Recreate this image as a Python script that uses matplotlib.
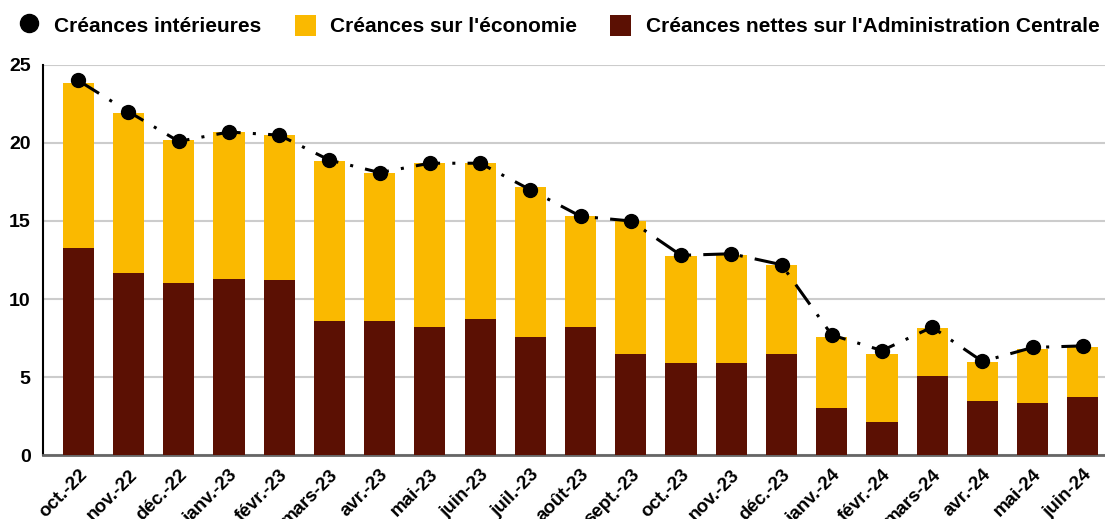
import matplotlib
matplotlib.use("Agg")
import matplotlib.pyplot as plt
from matplotlib.lines import Line2D
from matplotlib.patches import Patch
import numpy as np

plt.rcParams["font.family"] = ["Liberation Sans", "DejaVu Sans"]

months = [
    "oct.-22", "nov.-22", "déc.-22", "janv.-23", "févr.-23", "mars-23", "avr.-23",
    "mai-23", "juin-23", "juil.-23", "août-23", "sept.-23", "oct.-23", "nov.-23",
    "déc.-23", "janv.-24", "févr.-24", "mars-24", "avr.-24", "mai-24", "juin-24",
]
admin_centrale = [
    13.3, 11.7, 11.0, 11.3, 11.2, 8.6, 8.6, 8.2, 8.7, 7.6, 8.2,
    6.5, 5.9, 5.9, 6.5, 3.0, 2.1, 5.1, 3.45, 3.35, 3.7,
]
totals = [
    23.85, 21.9, 20.2, 20.7, 20.5, 18.85, 18.1, 18.7, 18.7, 17.2, 15.3,
    15.0, 12.75, 12.8, 12.15, 7.6, 6.5, 8.15, 5.95, 6.8, 6.9,
]
economie = [t - a for t, a in zip(totals, admin_centrale)]
interieures = [
    24.0, 22.0, 20.1, 20.7, 20.5, 18.9, 18.1, 18.7, 18.7, 17.0, 15.3,
    15.0, 12.8, 12.9, 12.2, 7.7, 6.7, 8.2, 6.0, 6.9, 7.0,
]

YELLOW = "#FAB900"
DARK = "#5B1003"

fig = plt.figure(figsize=(11.05, 5.19), dpi=100)
ax = fig.add_axes([0.039, 0.123, 0.961, 0.752])

x = np.arange(len(months))
ax.bar(x, admin_centrale, width=0.62, color=DARK, zorder=3)
ax.bar(x, economie, width=0.62, bottom=admin_centrale, color=YELLOW, zorder=3)
ax.plot(x, interieures, color="black", linestyle=(0, (8, 4, 1, 4)), linewidth=2.2,
        marker="o", markersize=10, zorder=4)

ax.set_xlim(-0.7, 20.44)
ax.set_ylim(0, 25)
ax.set_yticks([0, 5, 10, 15, 20, 25])
ax.grid(axis="y", color="#cccccc", linewidth=1.5, zorder=0)
ax.set_axisbelow(True)
for side in ["top", "right"]:
    ax.spines[side].set_visible(False)
ax.spines["left"].set_color("black")
ax.spines["left"].set_linewidth(1.5)
ax.spines["bottom"].set_color("#666666")
ax.spines["bottom"].set_linewidth(2)
ax.tick_params(axis="both", length=0, labelsize=14)
ax.tick_params(axis="y", pad=9)
ax.tick_params(axis="x", pad=8)
ax.set_xticks(x)
ax.set_xticklabels(months, rotation=45, ha="right", rotation_mode="anchor",
                   fontsize=13.5, fontweight="bold")
for lab in ax.get_yticklabels():
    lab.set_fontweight("bold")

handles = [
    Line2D([], [], color="black", marker="o", linestyle="none", markersize=13),
    Patch(facecolor=YELLOW),
    Patch(facecolor=DARK),
]
labels = ["Créances intérieures", "Créances sur l'économie",
          "Créances nettes sur l'Administration Centrale"]
fig.legend(handles, labels, loc="upper center", bbox_to_anchor=(0.506, 1.008), ncol=3,
           frameon=False, prop={"size": 15, "weight": "bold"}, handlelength=1.0,
           handleheight=1.2, columnspacing=1.6, handletextpad=0.7)

fig.savefig("out.png", dpi=100)
